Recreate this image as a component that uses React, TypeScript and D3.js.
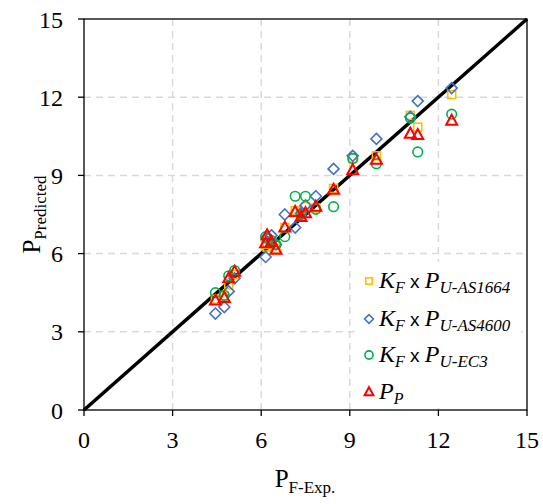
import React from "react";
import * as d3 from "d3";

const specimenExp = [4.45, 4.75, 4.9, 5.1, 6.15, 6.2, 6.35, 6.5, 6.8, 7.15, 7.35, 7.5, 7.85, 8.45, 9.1, 9.9, 11.05, 11.3, 12.45];
const predAS1664 = [4.25, 4.35, 4.8, 5.2, 6.35, 6.25, 6.4, 6.2, 7.0, 7.65, 7.5, 7.8, 7.75, 8.5, 9.65, 9.75, 11.3, 10.85, 12.1];
const predAS4600 = [3.7, 3.95, 4.55, 5.05, 5.87, 6.6, 6.7, 6.35, 7.5, 7.0, 7.55, 7.85, 8.2, 9.25, 9.75, 10.4, 11.25, 11.85, 12.35];
const predEC3 = [4.5, 4.4, 5.15, 5.35, 6.65, 6.6, 6.5, 6.35, 6.65, 8.2, 7.5, 8.2, 7.7, 7.8, 9.65, 9.45, 11.2, 9.9, 11.35];
const predPP = [4.2, 4.3, 5.05, 5.3, 6.4, 6.7, 6.45, 6.15, 7.0, 7.6, 7.4, 7.55, 7.8, 8.45, 9.2, 9.6, 10.6, 10.55, 11.1];
const ticks = [0, 3, 6, 9, 12, 15];

const left = 84, right = 527, top = 19, bottom = 410;
const x = d3.scaleLinear().domain([0, 15]).range([left, right]);
const y = d3.scaleLinear().domain([0, 15]).range([bottom, top]);

const YEL = "#FFC000", BLU = "#4472C4", GRN = "#00B050", RED = "#FF0000";
const serif = "Liberation Serif, serif";
const sans = "Liberation Sans, sans-serif";

function Square({ cx, cy, s = 1 }: { cx: number; cy: number; s?: number }) {
  const h = 4 * s;
  return <rect x={cx - h} y={cy - h} width={2 * h} height={2 * h} fill="none" stroke={YEL} strokeWidth={1.6} />;
}
function Diamond({ cx, cy, s = 1 }: { cx: number; cy: number; s?: number }) {
  const r = 5.5 * s;
  return <path d={`M${cx},${cy - r}L${cx + r},${cy}L${cx},${cy + r}L${cx - r},${cy}Z`} fill="none" stroke={BLU} strokeWidth={1.6} />;
}
function Circle({ cx, cy, s = 1 }: { cx: number; cy: number; s?: number }) {
  return <circle cx={cx} cy={cy} r={4.8 * s} fill="none" stroke={GRN} strokeWidth={1.6} />;
}
function Tri({ cx, cy, s = 1 }: { cx: number; cy: number; s?: number }) {
  const h = 10 * s, w = 11 * s;
  return <path d={`M${cx},${cy - h * 0.6}L${cx + w / 2},${cy + h * 0.4}L${cx - w / 2},${cy + h * 0.4}Z`} fill="none" stroke={RED} strokeWidth={2} />;
}

function LegendLabel({ xPos, yPos, sub }: { xPos: number; yPos: number; sub: string }) {
  return (
    <text x={xPos} y={yPos} fontFamily={serif} fontSize={24} fill="#000">
      <tspan fontStyle="italic">K</tspan>
      <tspan fontStyle="italic" fontSize={16} dy={5}>F</tspan>
      <tspan fontFamily={sans} fontSize={19} dy={-5}> x </tspan>
      <tspan fontStyle="italic">P</tspan>
      <tspan fontStyle="italic" fontSize={17} dy={5}>{sub}</tspan>
    </text>
  );
}

export default function App() {
  const grid = [3, 6, 9, 12];
  const legendRows = [281, 319, 355, 392];
  return (
    <svg width={543} height={504} style={{ position: "absolute", left: 0, top: 0 }}>
      <rect x={0} y={0} width={543} height={504} fill="#fff" />
      {grid.map((g) => (
        <g key={g}>
          <line x1={x(g)} x2={x(g)} y1={top} y2={bottom} stroke="#d9d9d9" strokeWidth={1.5} strokeDasharray="7,5" />
          <line x1={left} x2={right} y1={y(g)} y2={y(g)} stroke="#d9d9d9" strokeWidth={1.5} strokeDasharray="7,5" />
        </g>
      ))}
      <line x1={x(0)} y1={y(0)} x2={x(15)} y2={y(15)} stroke="#000" strokeWidth={3.5} />
      {specimenExp.map((v, i) => <Square key={"s" + i} cx={x(v)} cy={y(predAS1664[i])} />)}
      {specimenExp.map((v, i) => <Diamond key={"d" + i} cx={x(v)} cy={y(predAS4600[i])} />)}
      {specimenExp.map((v, i) => <Circle key={"c" + i} cx={x(v)} cy={y(predEC3[i])} />)}
      {specimenExp.map((v, i) => <Tri key={"t" + i} cx={x(v)} cy={y(predPP[i])} />)}

      <rect x={left} y={top} width={right - left} height={bottom - top} fill="none" stroke="#000" strokeWidth={1.3} />
      {ticks.map((t) => (
        <g key={"t" + t}>
          <line x1={x(t)} x2={x(t)} y1={bottom} y2={bottom + 6} stroke="#000" strokeWidth={1.3} />
          <text x={x(t)} y={bottom + 38} textAnchor="middle" fontFamily={serif} fontSize={24}>{t}</text>
          <line x1={left - 6} x2={left} y1={y(t)} y2={y(t)} stroke="#000" strokeWidth={1.3} />
          <text x={left - 21} y={y(t) + 8.5} textAnchor="end" fontFamily={serif} fontSize={24}>{t}</text>
        </g>
      ))}

      <rect x={357} y={262} width={164} height={146} fill="#fff" />
      <Square cx={369} cy={legendRows[0]} s={0.8} />
      <Diamond cx={369} cy={legendRows[1]} s={0.8} />
      <Circle cx={369} cy={legendRows[2]} s={0.85} />
      <Tri cx={369} cy={legendRows[3]} s={0.8} />
      <LegendLabel xPos={379} yPos={legendRows[0] + 7} sub="U-AS1664" />
      <LegendLabel xPos={379} yPos={legendRows[1] + 7} sub="U-AS4600" />
      <LegendLabel xPos={379} yPos={legendRows[2] + 7} sub="U-EC3" />
      <text x={379} y={legendRows[3] + 7} fontFamily={serif} fontSize={24} fill="#000">
        <tspan fontStyle="italic">P</tspan>
        <tspan fontStyle="italic" fontSize={16} dy={5}>P</tspan>
      </text>

      <text x={305} y={487} textAnchor="middle" fontFamily={serif} fontSize={25}>
        P<tspan fontSize={17} dy={6}>F-Exp.</tspan>
      </text>
      <text transform={`translate(40,${(top + bottom) / 2}) rotate(-90)`} textAnchor="middle" fontFamily={serif} fontSize={25}>
        P<tspan fontSize={17} dy={6}>Predicted</tspan>
      </text>
    </svg>
  );
}
